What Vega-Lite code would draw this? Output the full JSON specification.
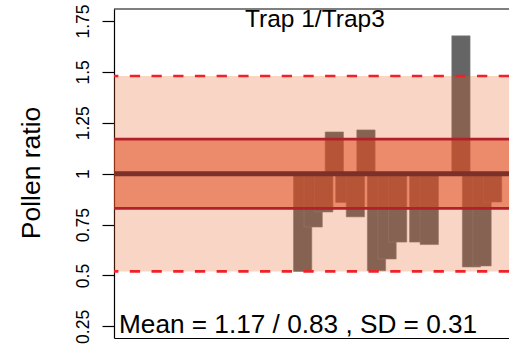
{
  "$schema": "https://vega.github.io/schema/vega-lite/v6.json",
  "width": 395,
  "height": 329,
  "autosize": "none",
  "padding": {"left": 114, "top": 9, "right": 0, "bottom": 11},
  "config": {"view": {"stroke": null}, "font": "Liberation Sans"},
  "layer": [
    {
      "data": {"values": [
        {"i": 0, "ratio": 0.52},
        {"i": 1, "ratio": 0.738},
        {"i": 2, "ratio": 0.812},
        {"i": 3, "ratio": 1.205},
        {"i": 4, "ratio": 0.859},
        {"i": 5, "ratio": 0.788},
        {"i": 6, "ratio": 1.215},
        {"i": 7, "ratio": 0.523},
        {"i": 8, "ratio": 0.581},
        {"i": 9, "ratio": 0.664},
        {"i": 11, "ratio": 0.664},
        {"i": 12, "ratio": 0.652},
        {"i": 15, "ratio": 1.677},
        {"i": 16, "ratio": 0.542},
        {"i": 17, "ratio": 0.547},
        {"i": 18, "ratio": 0.861}
      ]},
      "mark": {"type": "bar", "width": 18.3, "color": "#656565", "stroke": "#7e7e7e", "strokeWidth": 0.6, "opacity": 1},
      "encoding": {
        "x": {"field": "i", "type": "quantitative",
              "scale": {"domain": [-17.4, 19.08], "nice": false, "zero": false},
              "axis": {"orient": "bottom", "domain": true, "domainColor": "#000000", "domainWidth": 1.2, "ticks": false, "labels": false, "grid": false, "title": null}},
        "y": {"field": "ratio", "type": "quantitative",
              "scale": {"domain": [0.193, 1.809], "nice": false, "zero": false},
              "axis": {
                "values": [0.25, 0.5, 0.75, 1, 1.25, 1.5, 1.75],
                "labelExpr": "'' + datum.value",
                "grid": false,
                "domain": true, "domainColor": "#000000", "domainWidth": 1.2,
                "ticks": true, "tickColor": "#000000", "tickSize": 12, "tickWidth": 1.2,
                "labelAngle": -90, "labelAlign": "center", "labelBaseline": "alphabetic",
                "labelPadding": 14, "labelFontSize": 17.5, "labelColor": "#000000",
                "labelFont": "Liberation Sans", "labelFlush": false, "labelOverlap": false,
                "title": "Pollen ratio", "titleFont": "Liberation Sans", "titleFontSize": 26.5,
                "titleFontWeight": "normal", "titleColor": "#000000",
                "titleX": -75, "titleY": 163.5, "titleAngle": -90,
                "titleAlign": "center", "titleBaseline": "alphabetic"
              }},
        "y2": {"datum": 1}
      }
    },
    {
      "data": {"values": [{"lo": 0.52, "hi": 1.48}]},
      "mark": {"type": "rect", "color": "rgb(228,93,28)", "opacity": 0.26},
      "encoding": {
        "y": {"field": "lo", "type": "quantitative"},
        "y2": {"field": "hi"}
      }
    },
    {
      "data": {"values": [{"lo": 0.83, "hi": 1.17}]},
      "mark": {"type": "rect", "color": "rgb(225,71,30)", "opacity": 0.53},
      "encoding": {
        "y": {"field": "lo", "type": "quantitative"},
        "y2": {"field": "hi"}
      }
    },
    {
      "data": {"values": [{"level": 1.48}, {"level": 0.52}]},
      "mark": {"type": "rule", "color": "#f02228", "strokeWidth": 2.7, "strokeDash": [10.3, 11.4]},
      "encoding": {"y": {"field": "level", "type": "quantitative"}}
    },
    {
      "data": {"values": [{"level": 1.17}, {"level": 0.83}]},
      "mark": {"type": "rule", "color": "#b2202a", "strokeWidth": 2.8},
      "encoding": {"y": {"field": "level", "type": "quantitative"}}
    },
    {
      "data": {"values": [{"level": 1}]},
      "mark": {"type": "rule", "color": "#7b3029", "strokeWidth": 5},
      "encoding": {"y": {"field": "level", "type": "quantitative"}}
    },
    {
      "data": {"values": [{"edge": 1.809}]},
      "mark": {"type": "rule", "color": "#000000", "strokeWidth": 1.2},
      "encoding": {"y": {"field": "edge", "type": "quantitative"}}
    },
    {
      "data": {"values": [{"label": "Trap 1/Trap3"}]},
      "mark": {"type": "text", "align": "center", "baseline": "alphabetic", "fontSize": 24.5, "font": "Liberation Sans", "color": "#000000", "dy": 18},
      "encoding": {
        "x": {"datum": 1.16},
        "y": {"datum": 1.809},
        "text": {"field": "label"}
      }
    },
    {
      "data": {"values": [{"label": "Mean = 1.17 / 0.83 , SD = 0.31"}]},
      "mark": {"type": "text", "align": "left", "baseline": "alphabetic", "fontSize": 26.2, "font": "Liberation Sans", "color": "#000000", "dx": 0, "dy": -5},
      "encoding": {
        "x": {"datum": -17.4},
        "y": {"datum": 0.193},
        "text": {"field": "label"}
      }
    }
  ]
}
